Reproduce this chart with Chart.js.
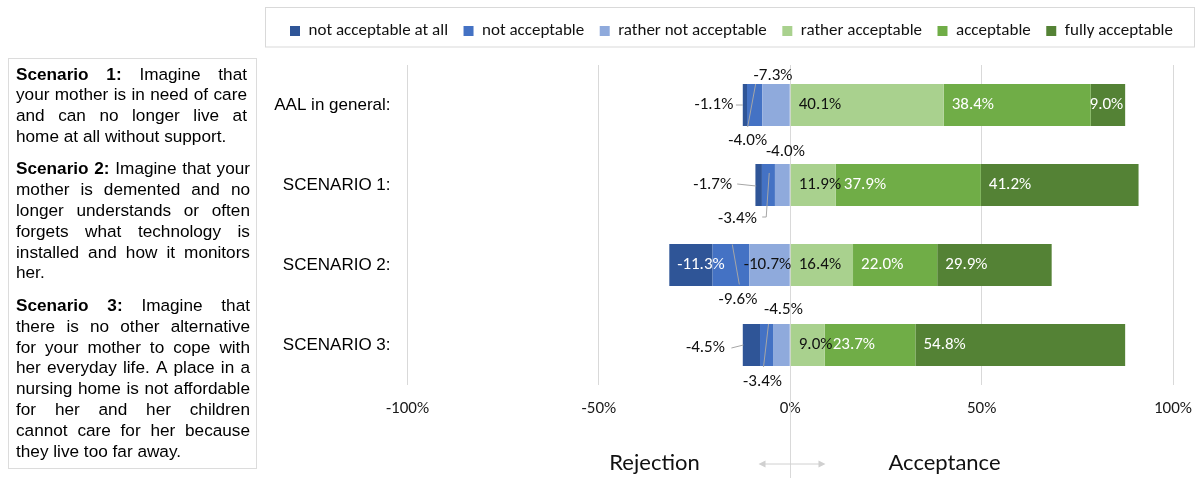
<!DOCTYPE html>
<html>
<head>
<meta charset="utf-8">
<title>Acceptance of AAL technology by scenario</title>
<script src="https://cdn.jsdelivr.net/npm/chart.js@4.4.1/dist/chart.umd.min.js"></script>
<style>
  html, body { margin: 0; padding: 0; background: #fff; }
  body { width: 1198px; height: 480px; position: relative; overflow: hidden; }
  #chart { position: absolute; left: 0; top: 0; }
  #scenarios {
    position: absolute; left: 8px; top: 58px; width: 249px; height: 411px;
    box-sizing: border-box; border: 1px solid #dcdcdc;
    padding: 4.6px 6px 0 7px;
    font-family: "Liberation Sans", Arial, sans-serif; font-size: 17.2px; line-height: 20.8px; color: #000;
  }
  #scenarios .para { margin-bottom: 11.7px; }
  #scenarios .para.narrow { margin-right: 3px; }
  #scenarios .ln { display: flex; justify-content: space-between; white-space: nowrap; }
  #scenarios .last { white-space: nowrap; }
</style>
</head>
<body>
<canvas id="chart" width="1198" height="480"></canvas>
<div id="scenarios"></div>
<script>
// ---- data ----
const categories = ['AAL in general:', 'SCENARIO 1:', 'SCENARIO 2:', 'SCENARIO 3:'];
const notAcceptableAtAll = [-1.1, -1.7, -11.3, -4.5];
const notAcceptable = [-4.0, -3.4, -9.6, -3.4];
const ratherNotAcceptable = [-7.3, -4.0, -10.7, -4.5];
const ratherAcceptable = [40.1, 11.9, 16.4, 9.0];
const acceptable = [38.4, 37.9, 22.0, 23.7];
const fullyAcceptable = [9.0, 41.2, 29.9, 54.8];
const axisTicks = [-100, -50, 0, 50, 100];

// ---- scenario descriptions (one entry per printed line) ----
const scenarioLines = [
  ['Scenario 1: Imagine that', 'your mother is in need of care', 'and can no longer live at', 'home at all without support.'],
  ['Scenario 2: Imagine that your', 'mother is demented and no', 'longer understands or often', 'forgets what technology is', 'installed and how it monitors', 'her.'],
  ['Scenario 3: Imagine that', 'there is no other alternative', 'for your mother to cope with', 'her everyday life. A place in a', 'nursing home is not affordable', 'for her and her children', 'cannot care for her because', 'they live too far away.']
];

const box = document.getElementById('scenarios');
scenarioLines.forEach((lines, p) => {
  const para = document.createElement('div');
  para.className = 'para' + (p === 0 ? ' narrow' : '');
  lines.forEach((line, i) => {
    const words = line.split(' ');
    const row = document.createElement('div');
    const isLast = i === lines.length - 1;
    row.className = isLast ? 'last' : 'ln';
    words.forEach((w, k) => {
      const el = document.createElement(i === 0 && k < 2 ? 'b' : 'span');
      el.textContent = w;
      row.appendChild(el);
      if (k < words.length - 1) row.appendChild(document.createTextNode(' '));
    });
    para.appendChild(row);
  });
  box.appendChild(para);
});

// ---- chart ----
const chartFont = 'Carlito, Lato, "Noto Sans", sans-serif';
const colors = ['#2F5597', '#4472C4', '#8FAADC', '#A9D18E', '#70AD47', '#548235'];
const series = [
  { label: 'not acceptable at all', data: notAcceptableAtAll, order: 2 },
  { label: 'not acceptable', data: notAcceptable, order: 1 },
  { label: 'rather not acceptable', data: ratherNotAcceptable, order: 0 },
  { label: 'rather acceptable', data: ratherAcceptable, order: 3 },
  { label: 'acceptable', data: acceptable, order: 4 },
  { label: 'fully acceptable', data: fullyAcceptable, order: 5 }
];

// label placement for the small rejection segments: offset of the text centre from the
// segment centre, optional leader line (points relative to the segment centre)
const labelSpots = {
  0: [
    { dx: -31, dy: 0, leader: [[-9, 0], [-2, 0]] },
    { dx: -46, dy: 0, leader: [[-21.5, -1], [-2.5, 1]] },
    { dx: 10, dy: 0, color: '#fff' },
    { dx: -46, dy: 3, leader: [[-20, 3], [-8, 0]] }
  ],
  1: [
    { dx: -7, dy: 36, leader: [[-7, 22], [1, -21]] },
    { dx: -31, dy: 34, leader: [[-6.2, 32], [-2.2, 32], [0.8, -12]] },
    { dx: 7, dy: 34.5, leader: [[1.4, -20.5], [8.4, 19.5]] },
    { dx: -4, dy: 37, leader: [[-3, 22], [2, -21]] }
  ],
  2: [
    { dx: -3, dy: -29 },
    { dx: 3, dy: -33 },
    { dx: -2, dy: 0 },
    { dx: 2, dy: -35 }
  ],
  5: [ { dx: -1.5, dy: 0, color: '#fff' } ]
};

const fmt = v => v.toFixed(1) + '%';

const extras = {
  id: 'extras',
  beforeLayout(chart) {
    const lg = chart.legend;
    if (lg && !lg._spaced) {
      const fit = lg.fit.bind(lg);
      lg.fit = function () { fit(); this.height += 15.5; };
      lg._spaced = true;
    }
  },
  beforeDraw(chart) {
    // frame round the legend row
    const lg = chart.legend, ctx = chart.ctx;
    ctx.save();
    ctx.strokeStyle = '#d9d9d9';
    ctx.lineWidth = 1;
    ctx.strokeRect(lg.left + 0.5, 7.5, lg.width - 4, 39.5);
    ctx.restore();
  },
  afterDatasetsDraw(chart) {
    const ctx = chart.ctx;
    ctx.save();
    ctx.font = '17px ' + chartFont;
    ctx.textBaseline = 'middle';
    chart.data.datasets.forEach((ds, di) => {
      const meta = chart.getDatasetMeta(di);
      meta.data.forEach((bar, ci) => {
        const p = bar.getProps(['x', 'y', 'base'], true);
        const x0 = Math.min(p.x, p.base), x1 = Math.max(p.x, p.base);
        const cx = (x0 + x1) / 2, cy = p.y;
        const text = fmt(ds.data[ci]);
        const spot = labelSpots[di] && labelSpots[di][ci];
        if (spot) {
          if (spot.leader) {
            ctx.strokeStyle = '#a6a6a6';
            ctx.lineWidth = 1;
            ctx.beginPath();
            spot.leader.forEach(([lx, ly], k) => {
              if (k === 0) ctx.moveTo(cx + lx, cy + ly); else ctx.lineTo(cx + lx, cy + ly);
            });
            ctx.stroke();
          }
          ctx.fillStyle = spot.color || '#111';
          ctx.textAlign = 'center';
          ctx.fillText(text, cx + spot.dx, cy + spot.dy);
        } else {
          ctx.fillStyle = di === 3 ? '#111' : '#fff';
          ctx.textAlign = 'left';
          ctx.fillText(text, x0 + 8, cy);
        }
      });
    });
    ctx.restore();
  },
  afterDraw(chart) {
    const ctx = chart.ctx, xs = chart.scales.x, area = chart.chartArea;
    const zero = Math.round(xs.getPixelForValue(0)) + 0.5;
    const yMid = 464;
    ctx.save();
    // zero line continued under the axis
    ctx.strokeStyle = '#d9d9d9';
    ctx.lineWidth = 1;
    ctx.beginPath();
    ctx.moveTo(zero, area.bottom);
    ctx.lineTo(zero, 478);
    ctx.stroke();
    // double arrow
    const l = zero - 32, r = zero + 35;
    ctx.strokeStyle = '#d0d0d0';
    ctx.beginPath();
    ctx.moveTo(l + 5, yMid); ctx.lineTo(r - 5, yMid);
    ctx.stroke();
    ctx.fillStyle = '#d0d0d0';
    ctx.beginPath();
    ctx.moveTo(l, yMid); ctx.lineTo(l + 7, yMid - 3.5); ctx.lineTo(l + 7, yMid + 3.5); ctx.closePath();
    ctx.moveTo(r, yMid); ctx.lineTo(r - 7, yMid - 3.5); ctx.lineTo(r - 7, yMid + 3.5); ctx.closePath();
    ctx.fill();
    // side captions
    ctx.fillStyle = '#111';
    ctx.font = '22px Lato, "Noto Sans", sans-serif';
    ctx.textAlign = 'center';
    ctx.textBaseline = 'middle';
    ctx.fillText('Rejection', zero - 136, 463);
    ctx.fillText('Acceptance', zero + 154, 463);
    ctx.restore();
  }
};

new Chart(document.getElementById('chart'), {
  type: 'bar',
  data: {
    labels: categories,
    datasets: series.map((s, i) => ({
      label: s.label,
      data: s.data,
      order: s.order,
      backgroundColor: colors[i],
      borderWidth: 0,
      categoryPercentage: 1,
      barPercentage: 0.525
    }))
  },
  options: {
    indexAxis: 'y',
    responsive: false,
    animation: false,
    layout: { padding: { left: 265, right: 0, top: 7, bottom: 0 } },
    plugins: {
      legend: {
        position: 'top',
        labels: {
          boxWidth: 10, boxHeight: 10, padding: 15.5, color: '#111',
          font: { family: chartFont, size: 17 },
          sort: (a, b) => a.datasetIndex - b.datasetIndex
        }
      },
      tooltip: { enabled: false }
    },
    scales: {
      x: {
        stacked: true, min: -100, max: 100,
        afterBuildTicks: s => { s.ticks = axisTicks.map(v => ({ value: v })); },
        afterFit: s => { s.height = 95; s.paddingRight = 25; s.paddingLeft = 0; },
        grid: { color: '#d9d9d9', drawTicks: false },
        border: { display: false },
        ticks: { padding: 14, color: '#1a1a1a', font: { family: chartFont, size: 17 }, callback: v => v + '%' }
      },
      y: {
        stacked: true,
        afterFit: s => { s.width = 142.5; },
        grid: { display: false, drawTicks: false },
        border: { display: false },
        ticks: { padding: 17, color: '#000', font: { family: '"Liberation Sans", Arial, sans-serif', size: 17 } }
      }
    }
  },
  plugins: [extras]
});
</script>
</body>
</html>
